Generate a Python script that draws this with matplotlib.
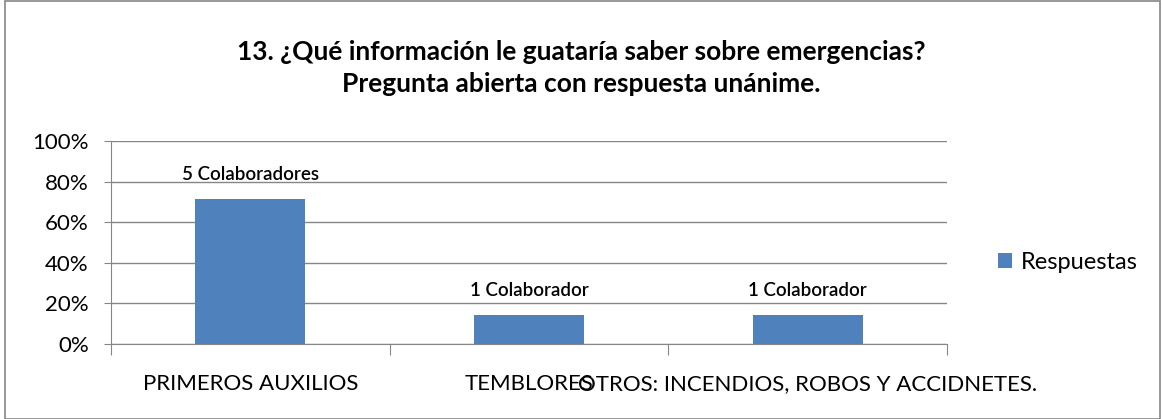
import matplotlib
matplotlib.use("Agg")
import matplotlib.pyplot as plt
from matplotlib.patches import Rectangle

categorias = ["PRIMEROS AUXILIOS", "TEMBLORES", "OTROS: INCENDIOS, ROBOS Y ACCIDNETES."]
respuestas = [5 / 7, 1 / 7, 1 / 7]
etiquetas = ["5 Colaboradores", "1 Colaborador", "1 Colaborador"]
yticks = [0, 0.2, 0.4, 0.6, 0.8, 1.0]
ytick_labels = ["0%", "20%", "40%", "60%", "80%", "100%"]

plt.rcParams['font.family'] = ['Lato', 'DejaVu Sans']

fig = plt.figure(figsize=(11.62, 4.19), dpi=100)
ax = fig.add_axes([0.0955, 0.179, 0.7195, 0.4845])

x = list(range(len(categorias)))
ax.bar(x, respuestas, width=0.395, color="#4F81BD", label="Respuestas", zorder=3)

for xi, v, t in zip(x, respuestas, etiquetas):
    ax.text(xi, v + 0.08, t, ha="center", va="bottom", fontsize=13.5, fontweight="semibold")

ax.set_xlim(-0.5, 2.5)
ax.set_ylim(0, 1)
ax.set_yticks(yticks)
ax.set_yticklabels(ytick_labels, fontsize=16)
ax.yaxis.grid(True, color="#868686", linewidth=1, zorder=0)
ax.tick_params(axis="y", length=5, color="#868686", pad=11)

# category labels between boundary ticks
ax.set_xticks([-0.5, 0.5, 1.5, 2.5])
ax.set_xticklabels([])
ax.tick_params(axis="x", length=8, color="#868686")
for xi, c in zip(x, categorias):
    ax.text(xi, -0.15, c, ha="center", va="top", fontsize=16,
            transform=ax.get_xaxis_transform())

for s in ["top", "right"]:
    ax.spines[s].set_visible(False)
for s in ["left", "bottom"]:
    ax.spines[s].set_color("#868686")

fig.text(0.5, 0.838, "13. ¿Qué información le guataría saber sobre emergencias?\nPregunta abierta con respuesta unánime.",
         ha="center", va="center", fontsize=19, fontweight="bold", linespacing=1.4)

ax.legend(loc="center left", bbox_to_anchor=(1.035, 0.4), frameon=False, fontsize=17,
          handlelength=0.6, handleheight=0.6, handletextpad=0.4)

fig.add_artist(Rectangle((0.004, 0.0), 0.994, 0.998, transform=fig.transFigure,
                         fill=False, edgecolor="#868686", linewidth=1.2))

fig.savefig("out.png", dpi=100)
